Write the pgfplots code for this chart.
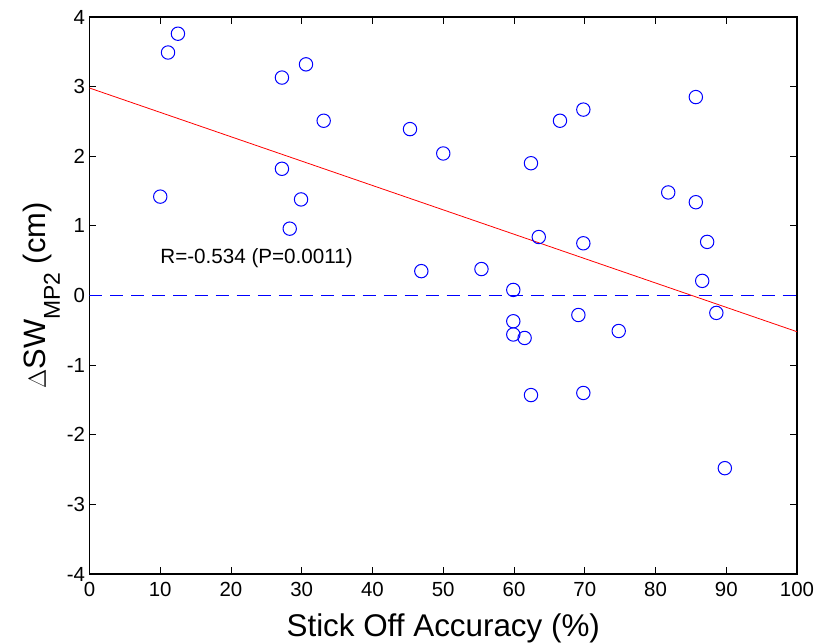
\documentclass[border=0pt]{standalone}
\usepackage{pgfplots}
\pgfplotsset{compat=1.18}
\usepackage{fontspec}
\setmainfont{Liberation Sans}
\definecolor{mblue}{RGB}{0,0,255}
\definecolor{mred}{RGB}{255,0,0}

\pgfplotstableread{
x y
10.0 1.42
11.1 3.49
12.5 3.76
27.2 3.13
27.2 1.82
28.3 0.96
29.9 1.38
30.6 3.32
33.1 2.51
45.3 2.39
50.0 2.04
46.9 0.35
55.4 0.38
59.9 0.08
59.9 -0.37
59.9 -0.56
61.5 -0.61
62.4 -1.43
69.8 -1.40
69.1 -0.28
74.8 -0.51
89.8 -2.48
88.6 -0.25
85.7 2.85
69.8 2.67
66.5 2.51
62.4 1.90
81.8 1.48
85.7 1.34
63.5 0.84
69.8 0.75
87.3 0.77
86.6 0.21
}\pts

\begin{document}
\begin{tikzpicture}
\path[use as bounding box] (-89.5bp,-69bp) rectangle (727.5bp,574bp);
\begin{axis}[
  at={(0,0)}, anchor=south west,
  scale only axis,
  width=707.5bp, height=557bp,
  xmin=0, xmax=100, ymin=-4, ymax=4,
  xtick={0,10,...,100}, ytick={-4,-3,...,4},
  tick align=inside,
  major tick length=7bp,
  axis line style={line width=1.2bp, black},
  every tick/.style={line width=0.9bp, black},
  ticklabel style={font=\fontsize{20.5}{24}\selectfont},
  xticklabel style={yshift=-5bp},
  yticklabel style={xshift=-1bp},
  /pgf/number format/assume math mode=true,
  xlabel={Stick Off Accuracy (\%)},
  xlabel style={font=\fontsize{31.5}{35}\selectfont, yshift=-10bp},
  ylabel={$\Delta$SW\raisebox{-14bp}{\fontsize{23}{26}\selectfont MP2} (cm)},
  ylabel style={font=\fontsize{31}{35}\selectfont},
  clip=true,
]
\addplot[mblue, dashed, dash pattern=on 13bp off 8bp, line width=1.3bp, forget plot] table[x=x,y=y] {
x y
0 0.005
100 0.005
};
\addplot[draw=mred, line width=0.8bp] coordinates {(0,2.98) (100,-0.52)};
\addplot[only marks, mark=o, mark size=6.7bp, mblue, mark options={line width=1bp}] table[x=x,y=y] {\pts};
\node[anchor=west, font=\fontsize{20.7}{24}\selectfont, inner sep=0pt] at (axis cs:10,0.54) {R=-0.534 (P=0.0011)};
\end{axis}
\end{tikzpicture}
\end{document}
